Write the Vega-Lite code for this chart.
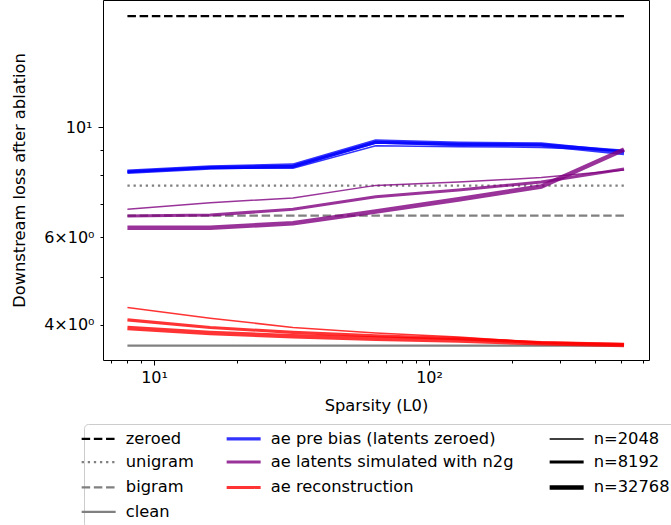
{
  "$schema": "https://vega.github.io/schema/vega-lite/v6.json",
  "width": 546,
  "height": 360,
  "autosize": "none",
  "padding": {"left": 103, "top": 0, "right": 22, "bottom": 165},
  "background": "white",
  "datasets": {
    "baselines": [
      {"name": "zeroed", "L0": 8, "loss": 16.72},
      {"name": "zeroed", "L0": 512, "loss": 16.72},
      {"name": "unigram", "L0": 8, "loss": 7.62},
      {"name": "unigram", "L0": 512, "loss": 7.62},
      {"name": "bigram", "L0": 8, "loss": 6.63},
      {"name": "bigram", "L0": 512, "loss": 6.63},
      {"name": "clean", "L0": 8, "loss": 3.63},
      {"name": "clean", "L0": 512, "loss": 3.63}
    ],
    "series": [
      {"s": "ae pre bias (latents zeroed)", "n": 2048, "L0": 8, "loss": 8.12},
      {"s": "ae pre bias (latents zeroed)", "n": 2048, "L0": 16, "loss": 8.27},
      {"s": "ae pre bias (latents zeroed)", "n": 2048, "L0": 32, "loss": 8.26},
      {"s": "ae pre bias (latents zeroed)", "n": 2048, "L0": 64, "loss": 9.17},
      {"s": "ae pre bias (latents zeroed)", "n": 2048, "L0": 128, "loss": 9.13},
      {"s": "ae pre bias (latents zeroed)", "n": 2048, "L0": 256, "loss": 9.10},
      {"s": "ae pre bias (latents zeroed)", "n": 2048, "L0": 512, "loss": 8.96},
      {"s": "ae pre bias (latents zeroed)", "n": 8192, "L0": 8, "loss": 8.13},
      {"s": "ae pre bias (latents zeroed)", "n": 8192, "L0": 16, "loss": 8.29},
      {"s": "ae pre bias (latents zeroed)", "n": 8192, "L0": 32, "loss": 8.34},
      {"s": "ae pre bias (latents zeroed)", "n": 8192, "L0": 64, "loss": 9.32},
      {"s": "ae pre bias (latents zeroed)", "n": 8192, "L0": 128, "loss": 9.23},
      {"s": "ae pre bias (latents zeroed)", "n": 8192, "L0": 256, "loss": 9.21},
      {"s": "ae pre bias (latents zeroed)", "n": 8192, "L0": 512, "loss": 8.95},
      {"s": "ae pre bias (latents zeroed)", "n": 32768, "L0": 8, "loss": 8.13},
      {"s": "ae pre bias (latents zeroed)", "n": 32768, "L0": 16, "loss": 8.29},
      {"s": "ae pre bias (latents zeroed)", "n": 32768, "L0": 32, "loss": 8.36},
      {"s": "ae pre bias (latents zeroed)", "n": 32768, "L0": 64, "loss": 9.35},
      {"s": "ae pre bias (latents zeroed)", "n": 32768, "L0": 128, "loss": 9.25},
      {"s": "ae pre bias (latents zeroed)", "n": 32768, "L0": 256, "loss": 9.22},
      {"s": "ae pre bias (latents zeroed)", "n": 32768, "L0": 512, "loss": 8.87},
      {"s": "ae latents simulated with n2g", "n": 2048, "L0": 8, "loss": 6.83},
      {"s": "ae latents simulated with n2g", "n": 2048, "L0": 16, "loss": 7.04},
      {"s": "ae latents simulated with n2g", "n": 2048, "L0": 32, "loss": 7.20},
      {"s": "ae latents simulated with n2g", "n": 2048, "L0": 64, "loss": 7.63},
      {"s": "ae latents simulated with n2g", "n": 2048, "L0": 128, "loss": 7.75},
      {"s": "ae latents simulated with n2g", "n": 2048, "L0": 256, "loss": 7.91},
      {"s": "ae latents simulated with n2g", "n": 2048, "L0": 512, "loss": 8.19},
      {"s": "ae latents simulated with n2g", "n": 8192, "L0": 8, "loss": 6.62},
      {"s": "ae latents simulated with n2g", "n": 8192, "L0": 16, "loss": 6.65},
      {"s": "ae latents simulated with n2g", "n": 8192, "L0": 32, "loss": 6.83},
      {"s": "ae latents simulated with n2g", "n": 8192, "L0": 64, "loss": 7.24},
      {"s": "ae latents simulated with n2g", "n": 8192, "L0": 128, "loss": 7.47},
      {"s": "ae latents simulated with n2g", "n": 8192, "L0": 256, "loss": 7.75},
      {"s": "ae latents simulated with n2g", "n": 8192, "L0": 512, "loss": 8.23},
      {"s": "ae latents simulated with n2g", "n": 32768, "L0": 8, "loss": 6.27},
      {"s": "ae latents simulated with n2g", "n": 32768, "L0": 16, "loss": 6.27},
      {"s": "ae latents simulated with n2g", "n": 32768, "L0": 32, "loss": 6.40},
      {"s": "ae latents simulated with n2g", "n": 32768, "L0": 64, "loss": 6.76},
      {"s": "ae latents simulated with n2g", "n": 32768, "L0": 128, "loss": 7.15},
      {"s": "ae latents simulated with n2g", "n": 32768, "L0": 256, "loss": 7.59},
      {"s": "ae latents simulated with n2g", "n": 32768, "L0": 512, "loss": 9.01},
      {"s": "ae reconstruction", "n": 2048, "L0": 8, "loss": 4.33},
      {"s": "ae reconstruction", "n": 2048, "L0": 16, "loss": 4.12},
      {"s": "ae reconstruction", "n": 2048, "L0": 32, "loss": 3.95},
      {"s": "ae reconstruction", "n": 2048, "L0": 64, "loss": 3.85},
      {"s": "ae reconstruction", "n": 2048, "L0": 128, "loss": 3.78},
      {"s": "ae reconstruction", "n": 2048, "L0": 256, "loss": 3.68},
      {"s": "ae reconstruction", "n": 2048, "L0": 512, "loss": 3.65},
      {"s": "ae reconstruction", "n": 8192, "L0": 8, "loss": 4.09},
      {"s": "ae reconstruction", "n": 8192, "L0": 16, "loss": 3.95},
      {"s": "ae reconstruction", "n": 8192, "L0": 32, "loss": 3.86},
      {"s": "ae reconstruction", "n": 8192, "L0": 64, "loss": 3.80},
      {"s": "ae reconstruction", "n": 8192, "L0": 128, "loss": 3.75},
      {"s": "ae reconstruction", "n": 8192, "L0": 256, "loss": 3.68},
      {"s": "ae reconstruction", "n": 8192, "L0": 512, "loss": 3.65},
      {"s": "ae reconstruction", "n": 32768, "L0": 8, "loss": 3.94},
      {"s": "ae reconstruction", "n": 32768, "L0": 16, "loss": 3.85},
      {"s": "ae reconstruction", "n": 32768, "L0": 32, "loss": 3.79},
      {"s": "ae reconstruction", "n": 32768, "L0": 64, "loss": 3.75},
      {"s": "ae reconstruction", "n": 32768, "L0": 128, "loss": 3.72},
      {"s": "ae reconstruction", "n": 32768, "L0": 256, "loss": 3.67},
      {"s": "ae reconstruction", "n": 32768, "L0": 512, "loss": 3.64}
    ]
  },
  "encoding": {
    "x": {
      "field": "L0", "type": "quantitative",
      "scale": {"type": "log", "domain": [6.52, 631], "nice": false, "zero": false},
      "axis": {
        "title": "Sparsity (L0)",
        "values": [7, 8, 9, 10, 20, 30, 40, 50, 60, 70, 80, 90, 100, 200, 300, 400, 500, 600],
        "labelExpr": "datum.value == 10 ? '10¹' : (datum.value == 100 ? '10²' : '')",
        "tickSize": {"condition": {"test": "datum.value == 10 || datum.value == 100", "value": 5}, "value": 3},
        "labelPadding": 4,
        "titlePadding": 12,
        "grid": false
      }
    },
    "y": {
      "field": "loss", "type": "quantitative",
      "scale": {"type": "log", "domain": [3.396, 18.02], "nice": false, "zero": false},
      "axis": {
        "title": "Downstream loss after ablation",
        "values": [4, 5, 6, 7, 8, 9, 10],
        "labelExpr": "datum.value == 4 ? '4×10⁰' : (datum.value == 6 ? '6×10⁰' : (datum.value == 10 ? '10¹' : ''))",
        "tickSize": {"condition": {"test": "datum.value == 10", "value": 5}, "value": 3},
        "labelPadding": 6,
        "titlePadding": 16,
        "grid": false
      }
    }
  },
  "layer": [
    {
      "data": {"name": "baselines"},
      "mark": {"type": "line", "clip": true, "strokeWidth": 2.3},
      "encoding": {
        "color": {
          "field": "name", "type": "nominal",
          "scale": {
            "domain": ["zeroed", "ae pre bias (latents zeroed)", "n=2048", "unigram", "ae latents simulated with n2g", "n=8192", "bigram", "ae reconstruction", "n=32768", "clean"],
            "range": ["black", "rgba(0,0,255,0.8)", "black", "gray", "rgba(128,0,128,0.8)", "black", "gray", "rgba(255,0,0,0.8)", "black", "gray"]
          },
          "legend": {
            "title": null,
            "encode": {
              "symbols": {
                "update": {
                  "strokeDash": {"signal": "(datum.value == 'zeroed' || datum.value == 'bigram') ? [8.5, 3.7] : (datum.value == 'unigram' ? [2.3, 3.8] : [1, 0])"},
                  "strokeWidth": {"signal": "datum.value == 'n=2048' ? 1.5 : (datum.value == 'n=8192' ? 3 : (datum.value == 'n=32768' ? 4.6 : (indexof(['zeroed','unigram','bigram','clean'], datum.value) >= 0 ? 2.3 : 3.1)))"}
                }
              }
            }
          }
        },
        "strokeDash": {
          "field": "name", "type": "nominal",
          "scale": {"domain": ["zeroed", "unigram", "bigram", "clean"], "range": [[8.5, 3.7], [2.3, 3.8], [8.5, 3.7], [1, 0]]},
          "legend": null
        }
      }
    },
    {
      "data": {"name": "series"},
      "mark": {"type": "line", "clip": true},
      "encoding": {
        "color": {
          "field": "s", "type": "nominal",
          "scale": {
            "domain": ["zeroed", "ae pre bias (latents zeroed)", "n=2048", "unigram", "ae latents simulated with n2g", "n=8192", "bigram", "ae reconstruction", "n=32768", "clean"],
            "range": ["black", "rgba(0,0,255,0.8)", "black", "gray", "rgba(128,0,128,0.8)", "black", "gray", "rgba(255,0,0,0.8)", "black", "gray"]
          },
          "legend": {
            "title": null,
            "encode": {
              "symbols": {
                "update": {
                  "strokeDash": {"signal": "(datum.value == 'zeroed' || datum.value == 'bigram') ? [8.5, 3.7] : (datum.value == 'unigram' ? [2.3, 3.8] : [1, 0])"},
                  "strokeWidth": {"signal": "datum.value == 'n=2048' ? 1.5 : (datum.value == 'n=8192' ? 3 : (datum.value == 'n=32768' ? 4.6 : (indexof(['zeroed','unigram','bigram','clean'], datum.value) >= 0 ? 2.3 : 3.1)))"}
                }
              }
            }
          }
        },
        "strokeWidth": {
          "field": "n", "type": "quantitative",
          "scale": {"type": "log", "base": 2, "domain": [2048, 32768], "range": [1.5, 4.6]},
          "legend": null
        },
        "detail": {"field": "n", "type": "nominal"}
      }
    }
  ],
  "config": {
    "font": "DejaVu Sans",
    "view": {"stroke": "black", "strokeWidth": 1},
    "axis": {
      "domain": false,
      "tickColor": "black",
      "tickWidth": 1,
      "labelFont": "DejaVu Sans",
      "labelFontSize": 16,
      "labelColor": "black",
      "titleFont": "DejaVu Sans",
      "titleFontSize": 16.3,
      "titleFontWeight": "normal",
      "titleColor": "black"
    },
    "legend": {
      "orient": "none",
      "legendX": -19,
      "legendY": 424,
      "columns": 3,
      "direction": "horizontal",
      "symbolType": "stroke",
      "symbolSize": 1156,
      "symbolOffset": 0,
      "labelFont": "DejaVu Sans",
      "labelFontSize": 16.3,
      "labelColor": "black",
      "labelLimit": 400,
      "labelOffset": 19,
      "columnPadding": 25,
      "rowPadding": 6.4,
      "padding": 6.5,
      "strokeColor": "#cccccc",
      "fillColor": "rgba(255,255,255,0.8)",
      "cornerRadius": 4
    }
  }
}
